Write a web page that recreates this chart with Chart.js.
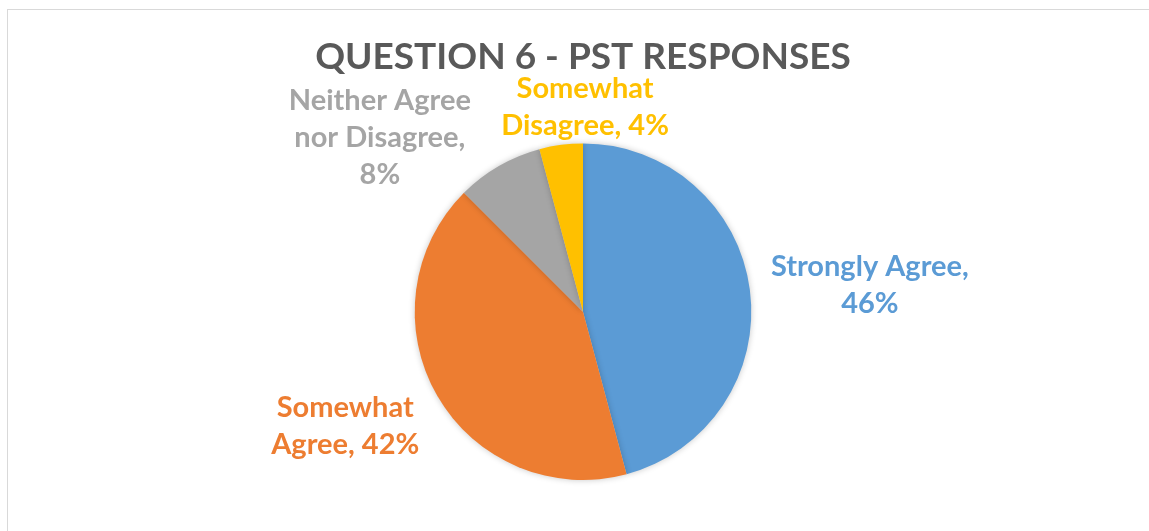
<!DOCTYPE html>
<html>
<head>
<meta charset="utf-8">
<script src="https://cdn.jsdelivr.net/npm/chart.js@4/dist/chart.umd.min.js"></script>
<style>
  html, body { margin: 0; padding: 0; background: #ffffff; overflow: hidden; }
  #wrap { position: relative; width: 1149px; height: 531px; }
  #frame { position: absolute; left: 7px; top: 9px; width: 1200px; height: 600px;
           border: 1px solid #d9d9d9; box-sizing: border-box; pointer-events: none; }
  canvas { position: absolute; left: 0; top: 0; }
</style>
</head>
<body>
<div id="wrap">
  <div id="frame"></div>
  <canvas id="c" width="1149" height="531"></canvas>
</div>
<script>
// ---- data ----
const titleText = "QUESTION 6 - PST RESPONSES";
const categories = ["Strongly Agree", "Somewhat Agree", "Neither Agree nor Disagree", "Somewhat Disagree"];
const responses = [11, 10, 2, 1];
const colors = ["#5B9BD5", "#ED7D31", "#A5A5A5", "#FFC000"];

// ---- label styling (text placement only) ----
const FONT = "Lato, 'Open Sans', sans-serif";
const labelWrapWidth = [225, 165, 200, 185];
const labelOffsets = [[120, -5], [-92, 30], [-119, -28], [24, -38]];
const labelLineHeight = 37;
const labelFontSize = 29;

function wrapText(ctx, text, maxW) {
  const words = text.split(" ");
  const lines = [];
  let cur = "";
  for (const w of words) {
    const t = cur ? cur + " " + w : w;
    if (cur && ctx.measureText(t).width > maxW) { lines.push(cur); cur = w; }
    else cur = t;
  }
  if (cur) lines.push(cur);
  return lines;
}

const shadowPlugin = {
  id: "pieShadow",
  beforeDatasetsDraw(chart) {
    const ctx = chart.ctx;
    ctx.save();
    ctx.shadowColor = "rgba(0,0,0,0.22)";
    ctx.shadowBlur = 6;
    ctx.shadowOffsetX = 0;
    ctx.shadowOffsetY = 0;
  },
  afterDatasetsDraw(chart) { chart.ctx.restore(); }
};

const labelPlugin = {
  id: "outsideLabels",
  afterDraw(chart) {
    const ctx = chart.ctx;
    const meta = chart.getDatasetMeta(0);
    const data = chart.data.datasets[0].data;
    const total = data.reduce((a, b) => a + b, 0);
    ctx.save();
    ctx.font = "bold " + labelFontSize + "px " + FONT;
    ctx.textAlign = "center";
    ctx.textBaseline = "middle";
    meta.data.forEach((arc, i) => {
      const p = arc.getProps(["x", "y", "startAngle", "endAngle", "outerRadius"], true);
      const mid = (p.startAngle + p.endAngle) / 2;
      const ex = p.x + Math.cos(mid) * p.outerRadius;
      const ey = p.y + Math.sin(mid) * p.outerRadius;
      const pct = Math.round(data[i] / total * 100);
      const text = chart.data.labels[i] + ", " + pct + "%";
      const lines = wrapText(ctx, text, labelWrapWidth[i]);
      const cx = ex + labelOffsets[i][0];
      const cy = ey + labelOffsets[i][1];
      const startY = cy - (lines.length - 1) * labelLineHeight / 2;
      ctx.fillStyle = colors[i];
      lines.forEach((ln, k) => ctx.fillText(ln, cx, startY + k * labelLineHeight));
    });
    ctx.restore();
  }
};

new Chart(document.getElementById("c"), {
  type: "pie",
  data: {
    labels: categories,
    datasets: [{
      data: responses,
      backgroundColor: colors,
      borderWidth: 0,
      hoverOffset: 0
    }]
  },
  options: {
    responsive: false,
    animation: false,
    events: [],
    layout: { padding: { top: 0, bottom: 51, left: 17, right: 0 } },
    plugins: {
      legend: { display: false },
      tooltip: { enabled: false },
      title: {
        display: true,
        text: titleText,
        color: "#595959",
        font: { family: FONT, size: 37, weight: "bold", lineHeight: 1.2 },
        padding: { top: 35, bottom: 64 }
      }
    }
  },
  plugins: [shadowPlugin, labelPlugin]
});
</script>
</body>
</html>
